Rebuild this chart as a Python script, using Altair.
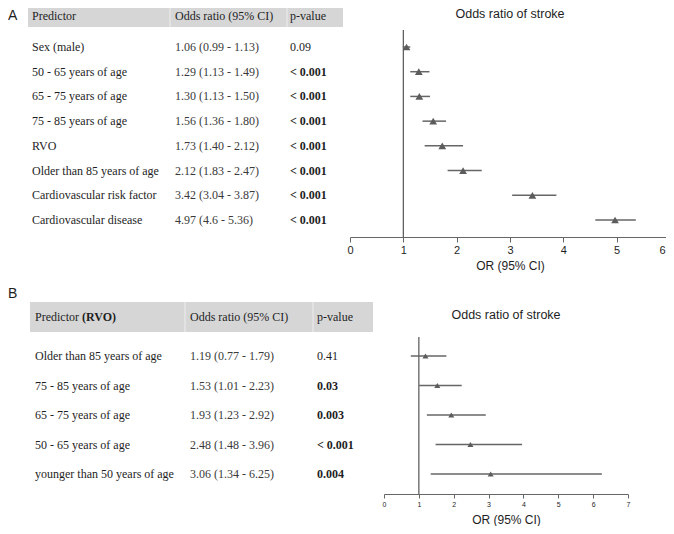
import altair as alt
import pandas as pd

# ---------------- data: panel A ----------------
a_predictors = ["Sex (male)", "50 - 65 years of age", "65 - 75 years of age",
                "75 - 85 years of age", "RVO", "Older than 85 years of age",
                "Cardiovascular risk factor", "Cardiovascular disease"]
a_or = [1.06, 1.29, 1.30, 1.56, 1.73, 2.12, 3.42, 4.97]
a_lo = [0.99, 1.13, 1.13, 1.36, 1.40, 1.83, 3.04, 4.6]
a_hi = [1.13, 1.49, 1.50, 1.80, 2.12, 2.47, 3.87, 5.36]
a_or_text = ["1.06 (0.99 - 1.13)", "1.29 (1.13 - 1.49)", "1.30 (1.13 - 1.50)",
             "1.56 (1.36 - 1.80)", "1.73 (1.40 - 2.12)", "2.12 (1.83 - 2.47)",
             "3.42 (3.04 - 3.87)", "4.97 (4.6 - 5.36)"]
a_p = ["0.09", "< 0.001", "< 0.001", "< 0.001", "< 0.001", "< 0.001", "< 0.001", "< 0.001"]
a_p_bold = [False, True, True, True, True, True, True, True]
a_ticks = [0, 1, 2, 3, 4, 5, 6]
a_headers = ["Predictor", "Odds ratio (95% CI)", "p-value"]

# ---------------- data: panel B ----------------
b_predictors = ["Older than 85 years of age", "75 - 85 years of age", "65 - 75 years of age",
                "50 - 65 years of age", "younger than 50 years of age"]
b_or = [1.19, 1.53, 1.93, 2.48, 3.06]
b_lo = [0.77, 1.01, 1.23, 1.48, 1.34]
b_hi = [1.79, 2.23, 2.92, 3.96, 6.25]
b_or_text = ["1.19 (0.77 - 1.79)", "1.53 (1.01 - 2.23)", "1.93 (1.23 - 2.92)",
             "2.48 (1.48 - 3.96)", "3.06 (1.34 - 6.25)"]
b_p = ["0.41", "0.03", "0.003", "< 0.001", "0.004"]
b_p_bold = [False, True, True, True, True]
b_ticks = [0, 1, 2, 3, 4, 5, 6, 7]
b_headers = ["Predictor ", "(RVO)", "Odds ratio (95% CI)", "p-value"]

plot_title = "Odds ratio of stroke"
axis_title = "OR (95% CI)"

SERIF = "Liberation Serif"
SANS = "Liberation Sans"
TXT = "#1e1e1e"
OR_TXT = "#3a3a3a"
GRAY_HDR = "#d6d6d6"
LINE = "#666666"
MARK = "#5c5c5c"

W, H = 658, 518

dfa = pd.DataFrame({"pred": a_predictors, "or": a_or, "lo": a_lo, "hi": a_hi,
                    "ortxt": a_or_text, "p": a_p, "bold": a_p_bold})
dfb = pd.DataFrame({"pred": b_predictors, "or": b_or, "lo": b_lo, "hi": b_hi,
                    "ortxt": b_or_text, "p": b_p, "bold": b_p_bold})

ax = alt.Scale(domain=[0, 6], range=[342, 662], nice=False, zero=False)
ay = alt.Scale(type="point", domain=a_predictors, range=[39, 212], padding=0)
bx = alt.Scale(domain=[0, 7], range=[376, 620], nice=False, zero=False)
by = alt.Scale(type="point", domain=b_predictors, range=[348, 466], padding=0)


def label(txt, x, y, size, font=SANS, weight="normal", color=TXT, align="left"):
    return alt.Chart(pd.DataFrame({"t": [txt]})).mark_text(
        align=align, baseline="middle", font=font, fontSize=size,
        fontWeight=weight, color=color
    ).encode(x=alt.value(x), y=alt.value(y), text="t:N")


def hdr_rect(x1, x2, y1, y2):
    return alt.Chart(pd.DataFrame({"k": [0]})).mark_rect(color=GRAY_HDR).encode(
        x=alt.value(x1), x2=alt.value(x2), y=alt.value(y1), y2=alt.value(y2))


def sep(x, y1, y2):
    return alt.Chart(pd.DataFrame({"k": [0]})).mark_rule(color="#eeeeee", strokeWidth=1).encode(
        x=alt.value(x), y=alt.value(y1), y2=alt.value(y2))


def table_col(df, field, x, yscale, color=TXT, weight="normal"):
    return alt.Chart(df).mark_text(
        align="left", baseline="middle", font=SERIF, fontSize=12,
        color=color, fontWeight=weight
    ).encode(x=alt.value(x), y=alt.Y("pred:N", scale=yscale, axis=None), text=f"{field}:N")


def forest(df, xs, ys, ticks, offset, tick_size, label_size, title_pad, size,
           ref_y1, ref_y2, title_x, title_y, edge_fix=False):
    extra = {}
    if edge_fix:
        last = ticks[-1]
        extra = dict(
            labelAlign=alt.ConditionalAxisLabelAlign(
                condition={"test": f"datum.value == {last}", "value": "right"}, value="center"),
            labelOffset=alt.ConditionalAxisNumber(
                condition={"test": f"datum.value == {last}", "value": -5}, value=0),
        )
    axis = alt.Axis(orient="bottom", offset=offset, values=ticks, format="d", grid=False,
                    tickSize=tick_size, tickColor=LINE, domainColor=LINE, tickWidth=1, domainWidth=1,
                    labelFontSize=label_size, labelFont=SANS, labelColor=TXT, labelPadding=2,
                    labelFlush=False, title=axis_title, titleFont=SANS, titleFontSize=12,
                    titleFontWeight="normal", titleColor=TXT, titlePadding=title_pad, **extra)
    ci = alt.Chart(df).mark_rule(color=LINE, strokeWidth=1.5).encode(
        x=alt.X("lo:Q", scale=xs, axis=axis), x2="hi:Q",
        y=alt.Y("pred:N", scale=ys, axis=None))
    pts = alt.Chart(df).mark_point(shape="triangle-up", filled=True, opacity=1,
                                   color=MARK, size=size).encode(
        x=alt.X("or:Q", scale=xs, axis=None), y=alt.Y("pred:N", scale=ys, axis=None))
    ref = alt.Chart(pd.DataFrame({"v": [1]})).mark_rule(color="#555555", strokeWidth=1.2).encode(
        x=alt.X("v:Q", scale=xs, axis=None), y=alt.value(ref_y1), y2=alt.value(ref_y2))
    ttl = alt.Chart(pd.DataFrame({"c": [title_x], "t": [plot_title]})).mark_text(
        align="center", baseline="middle", font=SANS, fontSize=12.5, color=TXT
    ).encode(x=alt.X("c:Q", scale=xs, axis=None), y=alt.value(title_y), text="t:N")
    return [ref, ci, pts, ttl]


layers = []
# ---- Panel A ----
layers.append(label("A", 0, 7.5, 14))
layers.append(hdr_rect(20, 335, 0, 19))
layers += [sep(162, 0, 19), sep(279, 0, 19)]
layers.append(label(a_headers[0], 24, 7.5, 12, font=SERIF))
layers.append(label(a_headers[1], 167, 7.5, 12, font=SERIF))
layers.append(label(a_headers[2], 282, 7.5, 12, font=SERIF))
layers.append(table_col(dfa, "pred", 24, ay))
layers.append(table_col(dfa, "ortxt", 167, ay, color=OR_TXT))
layers.append(table_col(dfa[~dfa["bold"]], "p", 282, ay))
layers.append(table_col(dfa[dfa["bold"]], "p", 282, ay, weight="bold"))
layers += forest(dfa, ax, ay, a_ticks, 229 - H, 5, 11, 5, 60, 22, 229, 3, 5.5, edge_fix=True)

# ---- Panel B ----
layers.append(label("B", 0, 286, 14))
layers.append(hdr_rect(22, 365, 294, 324))
layers += [sep(177, 294, 324), sep(305, 294, 324)]
layers.append(label(b_headers[0], 27, 309, 12, font=SERIF))
layers.append(label(b_headers[1], 74, 309, 12, font=SERIF, weight="bold"))
layers.append(label(b_headers[2], 182, 309, 12, font=SERIF))
layers.append(label(b_headers[3], 309, 309, 12, font=SERIF))
layers.append(table_col(dfb, "pred", 27, by))
layers.append(table_col(dfb, "ortxt", 182, by, color=OR_TXT))
layers.append(table_col(dfb[~dfb["bold"]], "p", 309, by))
layers.append(table_col(dfb[dfb["bold"]], "p", 309, by, weight="bold"))
layers += forest(dfb, bx, by, b_ticks, 486 - H, 4, 7, 7, 36, 329, 486, 3.5, 307)

chart = alt.layer(*layers).resolve_scale(x="independent", y="independent").properties(
    width=W, height=H, padding=0,
    autosize=alt.AutoSizeParams(type="none"),
    background="white",
).configure_view(stroke=None)

chart.save("out.html", embed_options={"renderer": "svg", "actions": False})
